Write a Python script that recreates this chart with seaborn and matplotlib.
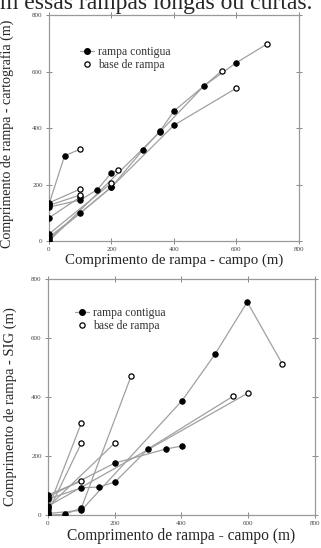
import matplotlib
matplotlib.use('Agg')
import matplotlib.pyplot as plt
from matplotlib.lines import Line2D
import seaborn as sns
import pandas as pd

sns.set_style('ticks')
plt.rcParams['font.family'] = ['Liberation Serif', 'DejaVu Serif']

# top panel: cartography vs field, one list per ramp chain (x, y, kind)
# kind: 'c' = rampa contigua (filled), 'b' = base de rampa (open)
top_x = [[0, 50, 100], [0, 100], [0, 100], [0, 100, 155, 200, 220], [0, 100],
         [0, 200], [0, 100, 200, 300, 355, 400, 553],
         [0, 200, 400, 598], [0, 355, 496, 598, 697]]
top_y = [[130, 302, 325], [135, 184], [126, 163], [120, 145, 182, 242, 250], [82, 156],
         [25, 205], [14, 99, 191, 322, 389, 460, 602],
         [7, 191, 410, 540], [0, 386, 549, 630, 697]]
top_k = [['c', 'c', 'b'], ['c', 'b'], ['c', 'b'], ['c', 'c', 'c', 'c', 'b'], ['c', 'c'],
         ['c', 'b'], ['c', 'c', 'c', 'c', 'c', 'c', 'b'],
         ['c', 'c', 'c', 'b'], ['c', 'c', 'c', 'c', 'b']]

# bottom panel: SIG vs field
bot_x = [[0, 100], [0, 100], [0, 50, 100, 249], [0, 200],
         [0, 100, 402, 501, 597, 702], [0, 100], [0, 200, 354, 402],
         [0, 100, 153, 201, 300, 555], [0, 600]]
bot_y = [[20, 312], [10, 244], [0, 2, 24, 471], [27, 244],
         [5, 16, 388, 546, 722, 512], [68, 115], [61, 176, 224, 234],
         [54, 92, 95, 112, 224, 403], [30, 414]]
bot_k = [['c', 'b'], ['c', 'b'], ['c', 'c', 'c', 'b'], ['c', 'b'],
         ['c', 'c', 'c', 'c', 'c', 'b'], ['c', 'b'], ['c', 'c', 'c', 'c'],
         ['c', 'c', 'c', 'c', 'c', 'b'], ['c', 'b']]

x_label = 'Comprimento de rampa - campo (m)'
y_labels = ['Comprimento de rampa - cartografia (m)', 'Comprimento de rampa - SIG (m)']
legend_labels = ['rampa contigua', 'base de rampa']
ticks = [0, 200, 400, 600, 800]


def to_frame(xs, ys, ks):
    rows = []
    for i, (cx, cy, ck) in enumerate(zip(xs, ys, ks)):
        for j in range(len(cx)):
            rows.append({'x': cx[j], 'y': cy[j], 'chain': i, 'order': j, 'kind': ck[j]})
    return pd.DataFrame(rows)


fig = plt.figure(figsize=(3.21, 5.48), dpi=100)
# running text of the page, cut by the top edge as in the scan
fig.text(0.972, 0.984, 'm essas rampas longas ou curtas.', ha='right', va='baseline',
         fontsize=17)

axes = [fig.add_axes([0.1526, 0.5602, 0.7788, 0.4124]),
        fig.add_axes([0.1495, 0.0602, 0.8318, 0.4307])]
datasets = [(top_x, top_y, top_k), (bot_x, bot_y, bot_k)]
leg_pos = [(0.104, 0.885), (0.082, 0.9)]
ylab_size = [10.1, 10.5]
ylab_pos = [(-0.14, 0.473), (-0.116, 0.46)]
xlab_size = [10.7, 11.2]

for n, ax in enumerate(axes):
    xs, ys, ks = datasets[n]
    df = to_frame(xs, ys, ks)
    sns.lineplot(data=df, x='x', y='y', units='chain', estimator=None, sort=False,
                 color='#a0a0a0', lw=0.9, ax=ax, legend=False)
    sns.scatterplot(data=df[df['kind'] == 'c'], x='x', y='y', color='black', s=16,
                    edgecolor='black', linewidth=0.6, ax=ax, zorder=3, legend=False)
    sns.scatterplot(data=df[df['kind'] == 'b'], x='x', y='y', color='white', s=14,
                    edgecolor='black', linewidth=0.9, ax=ax, zorder=3, legend=False)
    ax.set_xlim(0, 800)
    ax.set_ylim(0, 800)
    ax.set_xticks(ticks)
    ax.set_yticks(ticks)
    ax.set_xlabel(x_label, fontsize=xlab_size[n], labelpad=1)
    ax.set_ylabel(y_labels[n], fontsize=ylab_size[n])
    ax.yaxis.set_label_coords(*ylab_pos[n])
    ax.tick_params(direction='inout', length=5, width=0.7, color='#888888',
                   labelsize=5, labelcolor='#444444', top=True, right=True, pad=2)
    for sp in ax.spines.values():
        sp.set_color('#999999')
        sp.set_linewidth(0.9)
    handles = [Line2D([0], [0], color='#a0a0a0', lw=0.9, marker='o', ms=4,
                      mfc='black', mec='black'),
               Line2D([0], [0], color='none', marker='o', ms=3.8, mfc='white',
                      mec='black', mew=0.9)]
    ax.legend(handles, legend_labels, loc='upper left', bbox_to_anchor=leg_pos[n],
              frameon=False, fontsize=8.4, handlelength=1.2, handletextpad=0.4,
              labelspacing=0.1, borderaxespad=0, labelcolor='#333333')

fig.savefig('out.png', dpi=100)
